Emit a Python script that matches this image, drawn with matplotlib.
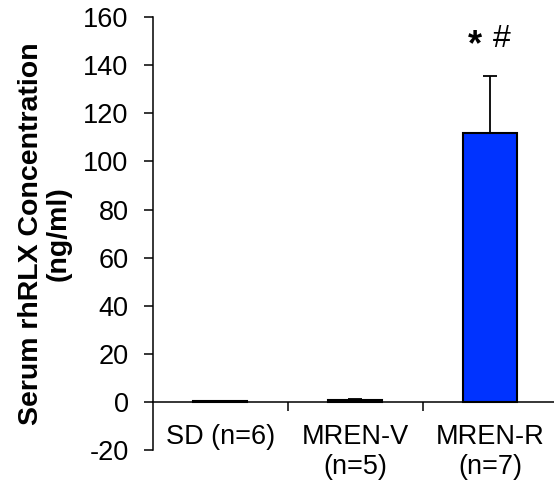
import numpy as np
import matplotlib
matplotlib.use('Agg')
import matplotlib.pyplot as plt

plt.rcParams['font.family'] = ['Liberation Sans', 'DejaVu Sans']
plt.rcParams['axes.unicode_minus'] = False

groups = ['SD (n=6)', 'MREN-V\n(n=5)', 'MREN-R\n(n=7)']
means = [0.3, 0.8, 112.0]
sems = [0.2, 0.3, 23.5]
yticks = list(range(-20, 161, 20))

fig = plt.figure(figsize=(5.54, 4.91), dpi=100)
ax = fig.add_axes([0.276, 0.0835, 0.731, 0.8815])

x = np.arange(len(groups))
ax.bar(x, means, width=0.4, color='#0033ff', edgecolor='black', linewidth=1.5, zorder=2)
ax.errorbar(x, means, yerr=[np.zeros(len(sems)), sems], fmt='none', ecolor='black',
            elinewidth=1.3, capsize=5, capthick=1.3, zorder=3)

ax.set_xlim(-0.5, 2.5)
ax.set_ylim(-20, 160)
ax.set_yticks(yticks)
ax.tick_params(axis='y', direction='out', length=6.5, width=1.1, labelsize=19.5, pad=11)

for s in ['top', 'right']:
    ax.spines[s].set_visible(False)
ax.spines['left'].set_linewidth(1.1)
ax.spines['bottom'].set_position(('data', 0))
ax.spines['bottom'].set_linewidth(1.1)
ax.spines['bottom'].set_zorder(4)

ax.set_xticks(x)
ax.set_xticklabels(groups, linespacing=1.2)
ax.set_xticks([0.5, 1.5], minor=True)
ax.tick_params(axis='x', which='major', length=0, labelsize=19.5, pad=16)
ax.tick_params(axis='x', which='minor', direction='out', length=6.5, width=1.1)

ax.set_ylabel('Serum rhRLX Concentration\n(ng/ml)', fontsize=20.5, fontweight='bold',
              linespacing=1.1, labelpad=8)

# significance marks above MREN-R
ax.text(1.94, 148, '*', ha='right', va='center', fontsize=26, fontweight='bold')
ax.text(2.015, 151, '#', ha='left', va='center', fontsize=23)

fig.savefig('out.png', dpi=100)
